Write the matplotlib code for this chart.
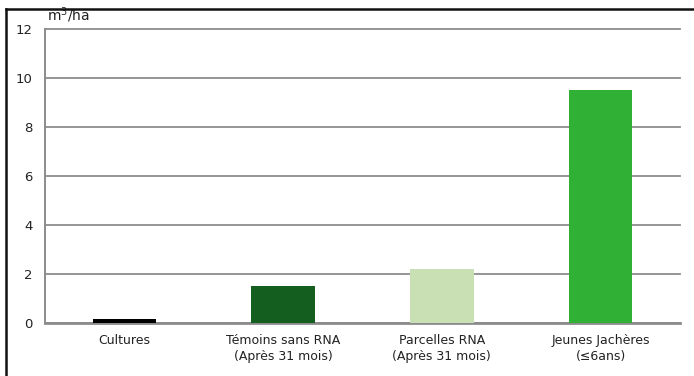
import matplotlib.pyplot as plt
from matplotlib.lines import Line2D

categories = ["Cultures", "Témoins sans RNA\n(Après 31 mois)",
              "Parcelles RNA\n(Après 31 mois)", "Jeunes Jachères\n(≤6ans)"]
values = [0.18, 1.52, 2.22, 9.52]
colors = ["#000000", "#145e1f", "#c9e0b4", "#31b036"]
yticks = [0, 2, 4, 6, 8, 10, 12]

fig = plt.figure(figsize=(6.94, 3.76), dpi=100)
ax = fig.add_axes([45 / 694, 53 / 376, 635 / 694, 294 / 376])

x = range(len(categories))
ax.bar(x, values, width=0.4, color=colors, zorder=3)

ax.set_xlim(-0.5, len(categories) - 0.5)
ax.set_ylim(0, 12)
ax.set_yticks(yticks)
ax.set_xticks(list(x))
ax.set_xticklabels(categories, fontsize=9, color="#222222", linespacing=1.25)
ax.tick_params(axis="y", length=0, pad=9, labelsize=9.5, labelcolor="#222222")
ax.tick_params(axis="x", length=0, pad=8)
ax.grid(axis="y", color="#8c8c8c", linewidth=1.3, zorder=0)
for gl in ax.get_ygridlines():
    gl.set_clip_on(False)

for side in ("top", "right"):
    ax.spines[side].set_visible(False)
ax.spines["left"].set_color("#8c8c8c")
ax.spines["left"].set_linewidth(1.4)
ax.spines["bottom"].set_color("#8c8c8c")
ax.spines["bottom"].set_linewidth(2)

ax.text(0.003, 1.012, "m$^3$/ha", transform=ax.transAxes, fontsize=10,
        color="#222222", ha="left", va="bottom")

# outer frame: top and left edges only
fig.add_artist(Line2D([6 / 694, 693 / 694], [1 - 8.5 / 376, 1 - 8.5 / 376],
                      transform=fig.transFigure, color="#111111", lw=1.8))
fig.add_artist(Line2D([6 / 694, 6 / 694], [0, 1 - 8.5 / 376],
                      transform=fig.transFigure, color="#111111", lw=1.8))

fig.savefig("out.png", dpi=100)
